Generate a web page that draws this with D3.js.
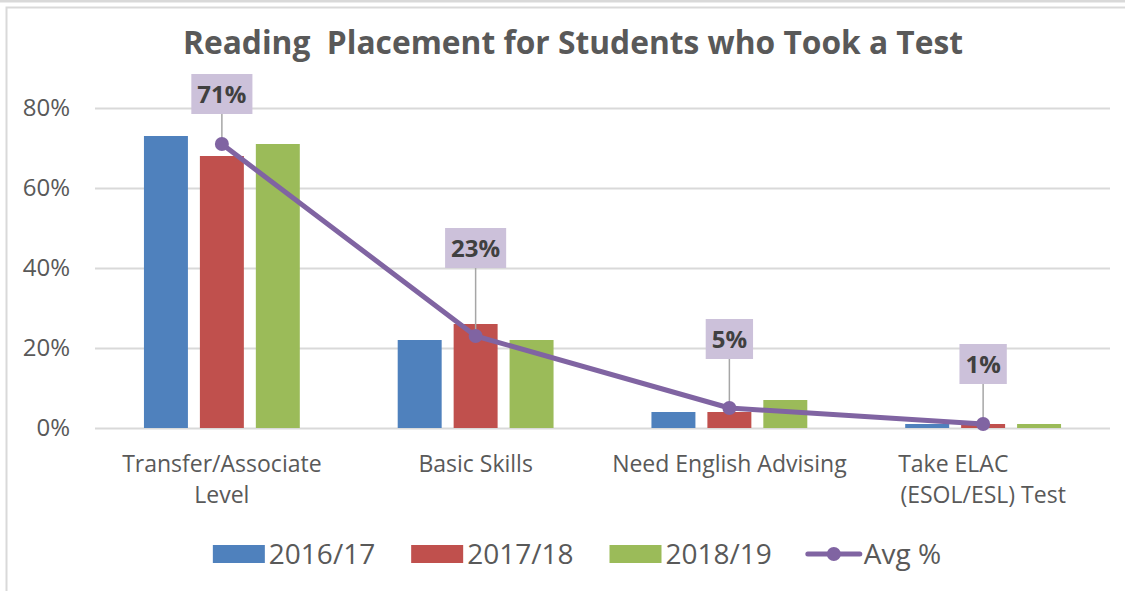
<!DOCTYPE html>
<html>
<head>
<meta charset="utf-8">
<script src="https://cdn.jsdelivr.net/npm/d3@7"></script>
<style>
  body { margin: 0; background: #fff; }
  svg { display: block; font-family: "Open Sans", sans-serif; }
  text { white-space: pre; }
</style>
</head>
<body>
<div id="chart"></div>
<script>
// chart data
const categories = ['Transfer/Associate\nLevel', 'Basic Skills', 'Need English Advising', 'Take ELAC          \n(ESOL/ESL) Test'];
const seriesNames = ['2016/17', '2017/18', '2018/19'];
const values1617 = [73, 22, 4, 1];
const values1718 = [68, 26, 4, 1];
const values1819 = [71, 22, 7, 1];
const avgValues = [71, 23, 5, 1];
const avgName = 'Avg %';
const yTicks = [0, 20, 40, 60, 80];
const title = 'Reading  Placement for Students who Took a Test';

const colors = ['#4f81bd', '#c0504d', '#9bbb59'];
const lineColor = '#8064a2';
// how far (px) each data label box sits above its point
const labelLift = [30, 68, 49, 40];

const W = 1125, H = 591;
const margin = { top: 108, right: 15, bottom: 163, left: 95 };
const width = W - margin.left - margin.right;
const height = H - margin.top - margin.bottom;

const svg = d3.select('#chart').append('svg').attr('width', W).attr('height', H);

// outer frame
svg.append('line').attr('x1', 0).attr('x2', W).attr('y1', 1).attr('y2', 1)
    .attr('stroke', '#d9d9d9').attr('stroke-width', 3);
svg.append('path').attr('d', `M6.5,${H} V7.5 H${W}`)
    .attr('fill', 'none').attr('stroke', '#d9d9d9').attr('stroke-width', 2);

svg.append('text')
    .attr('x', 573).attr('y', 54)
    .attr('text-anchor', 'middle')
    .attr('font-size', 32).attr('font-weight', 'bold')
    .attr('fill', '#595959')
    .attr('textLength', 780).attr('lengthAdjust', 'spacingAndGlyphs')
    .text(title);

const g = svg.append('g').attr('transform', `translate(${margin.left},${margin.top})`);

const x0 = d3.scaleBand().domain(categories).range([0, width]);
const x1 = d3.scaleBand().domain(seriesNames).range([0, x0.bandwidth()])
    .paddingInner(0.214).paddingOuter(0.875);
const y = d3.scaleLinear().domain([0, 80]).range([height, 0]);

// y axis with gridlines
const yAxis = d3.axisLeft(y).tickValues(yTicks).tickSize(-width).tickPadding(25)
    .tickFormat((d) => d + '%');
g.append('g').call(yAxis).call((ax) => {
    ax.select('.domain').remove();
    ax.selectAll('line').attr('stroke', '#d9d9d9').attr('stroke-width', 2);
    ax.selectAll('text').attr('font-size', 24).attr('fill', '#595959')
        .attr('font-family', '"Open Sans", sans-serif');
});

// bars
const seriesData = [values1617, values1718, values1819];
seriesData.forEach((vals, si) => {
    g.selectAll(null)
        .data(vals)
        .enter()
        .append('rect')
        .attr('x', (_, i) => x0(categories[i]) + x1(seriesNames[si]))
        .attr('y', (d) => y(d))
        .attr('width', x1.bandwidth())
        .attr('height', (d) => height - y(d))
        .attr('fill', colors[si]);
});

// category labels
const catG = g.append('g').attr('transform', `translate(0,${height})`);
categories.forEach((c) => {
    const t = catG.append('text')
        .attr('x', x0(c) + x0.bandwidth() / 2)
        .attr('text-anchor', 'middle')
        .attr('font-size', 23).attr('fill', '#595959');
    c.split('\n').forEach((line, li) => {
        t.append('tspan').attr('x', x0(c) + x0.bandwidth() / 2).attr('y', 44 + li * 31).text(line);
    });
});

// avg line
const cx = (i) => x0(categories[i]) + x0.bandwidth() / 2;
const line = d3.line().x((_, i) => cx(i)).y((d) => y(d));
g.append('path').datum(avgValues)
    .attr('fill', 'none').attr('stroke', lineColor).attr('stroke-width', 5)
    .attr('stroke-linejoin', 'round').attr('d', line);

// data labels with leader lines
avgValues.forEach((v, i) => {
    const px = cx(i), py = y(v);
    const boxBottom = py - labelLift[i];
    g.append('line').attr('x1', px).attr('x2', px).attr('y1', boxBottom).attr('y2', py)
        .attr('stroke', '#a6a6a6').attr('stroke-width', 1.5);
    const txt = g.append('text')
        .attr('x', px).attr('y', boxBottom - 11)
        .attr('text-anchor', 'middle')
        .attr('font-size', 24).attr('font-weight', 'bold').attr('fill', '#404040')
        .text(v + '%');
    const tw = txt.node().getComputedTextLength();
    g.insert('rect', () => txt.node())
        .attr('x', px - tw / 2 - 6).attr('y', boxBottom - 40)
        .attr('width', tw + 12).attr('height', 40)
        .attr('fill', '#ccc1da');
});

g.selectAll('circle.avg').data(avgValues).enter().append('circle')
    .attr('class', 'avg')
    .attr('cx', (_, i) => cx(i)).attr('cy', (d) => y(d)).attr('r', 7)
    .attr('fill', lineColor);

// legend
const legend = svg.append('g');
let lx = 0;
const gap = 36;
const legendItems = seriesNames.map((s, i) => ({ name: s, color: colors[i], type: 'bar' }))
    .concat([{ name: avgName, color: lineColor, type: 'line' }]);
legendItems.forEach((it) => {
    const item = legend.append('g').attr('transform', `translate(${lx},0)`);
    if (it.type === 'bar') {
        item.append('rect').attr('x', 0).attr('y', -9).attr('width', 52).attr('height', 18).attr('fill', it.color);
    } else {
        item.append('line').attr('x1', 0).attr('x2', 52).attr('y1', 0).attr('y2', 0)
            .attr('stroke', it.color).attr('stroke-width', 5).attr('stroke-linecap', 'round');
        item.append('circle').attr('cx', 26).attr('cy', 0).attr('r', 7).attr('fill', it.color);
    }
    const t = item.append('text').attr('x', 56).attr('y', 10)
        .attr('font-size', 28).attr('fill', '#595959').text(it.name);
    lx += 56 + t.node().getComputedTextLength() + gap;
});
const lw = lx - gap;
legend.attr('transform', `translate(${577 - lw / 2},554)`);
</script>
</body>
</html>
